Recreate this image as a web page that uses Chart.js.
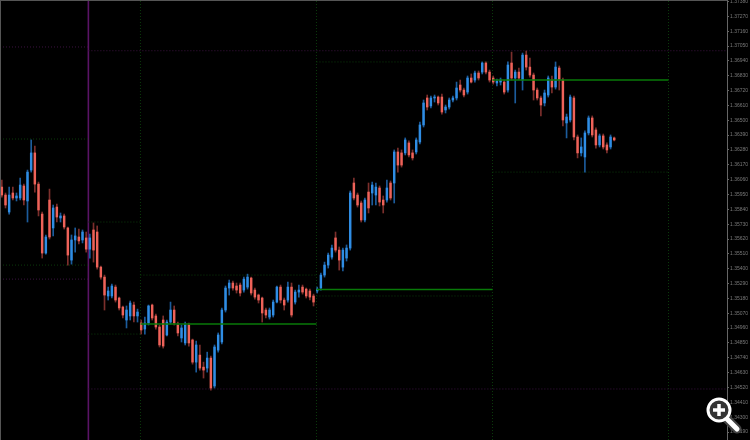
<!DOCTYPE html>
<html lang="en">
<head>
<meta charset="UTF-8">
<title>Price chart</title>
<style>
  html, body { margin: 0; padding: 0; background: #000; overflow: hidden; }
  #wrap { position: relative; width: 750px; height: 440px; }
  #frame { position: absolute; left: 0; top: 0; width: 726px; height: 439px;
           border-left: 1px solid #555; border-top: 1px solid #555; border-right: 1px solid #666; }
  #zoomIcon { position: absolute; left: 700px; top: 392px; }
</style>
</head>
<body>
<div id="wrap">
  <canvas id="myChart" width="750" height="440"></canvas>
  <div id="frame"></div>
  <svg id="zoomIcon" width="44" height="44" viewBox="0 0 44 44">
    <line x1="27" y1="27" x2="37" y2="37" stroke="#444" stroke-width="9" stroke-linecap="round"/>
    <line x1="27" y1="27" x2="37" y2="37" stroke="#fff" stroke-width="5" stroke-linecap="round"/>
    <circle cx="19" cy="18" r="11" fill="#333" stroke="#fff" stroke-width="3"/>
    <path d="M19 12v12M13 18h12" stroke="#fff" stroke-width="3.5"/>
  </svg>
</div>
<script src="https://cdn.jsdelivr.net/npm/chart.js"></script>
<script>
var opens = [
1.36005,1.35946,1.35820,1.35961,1.35924,1.35924,1.36013,1.35902,1.36131,1.36258,
1.36027,1.35805,1.35516,1.35909,1.35702,1.35857,1.35776,1.35791,1.35702,1.35464,
1.35613,1.35635,1.35613,1.35628,1.35545,1.35687,1.35672,1.35412,1.35338,1.35198,
1.35198,1.35264,1.35183,1.35116,1.35020,1.35050,1.35131,1.35050,
1.34998,1.34953,1.34998,1.35131,1.35050,1.34968,1.35020,1.34909,1.35005,1.35094,
1.34983,1.34887,1.34850,1.34983,1.34872,1.34708,1.34760,1.34671,1.34664,1.34738,
1.34531,1.34797,1.34857,1.35094,1.35257,1.35294,1.35272,1.35279,1.35242,1.35264,
1.35331,1.35242,1.35205,1.35183,1.35094,1.35042,1.35057,1.35153,1.35264,1.35168,
1.35168,1.35264,1.35153,1.35227,1.35264,1.35249,1.35235,1.35198,
1.35235,1.35257,1.35353,1.35427,1.35486,1.35628,1.35538,1.35412,1.35479,1.35553,
1.36035,1.35946,1.35887,1.35761,1.35968,1.35961,1.35946,1.35998,1.35909,1.35909,
1.36035,1.36035,1.36265,1.36258,1.36258,1.36332,1.36258,1.36265,1.36339,1.36465,
1.36665,1.36606,1.36665,1.36672,1.36672,1.36576,1.36598,1.36650,1.36665,1.36761,
1.36724,1.36709,1.36813,1.36798,1.36850,1.36857,1.36924,1.36857,
1.36813,1.36776,1.36783,1.36783,1.36724,1.36924,1.36813,1.36857,1.36798,1.36983,
1.36894,1.36835,1.36724,1.36665,1.36628,1.36687,1.36798,1.36746,1.36887,1.36798,
1.36480,1.36502,1.36665,1.36376,1.36258,1.36228,1.36406,1.36517,1.36428,1.36317,1.36384,1.36317,1.36302,1.36369
];
var closes = [
1.35946,1.35872,1.35946,1.35924,1.35939,1.36020,1.35909,1.36116,1.36258,1.36027,
1.35835,1.35516,1.35635,1.35635,1.35850,1.35783,1.35791,1.35709,1.35501,1.35613,
1.35643,1.35606,1.35672,1.35545,1.35628,1.35538,1.35412,1.35338,1.35205,1.35235,
1.35272,1.35168,1.35109,1.35057,1.35094,1.35146,1.35050,1.35079,
1.34946,1.34998,1.35124,1.35035,1.34968,1.34835,1.34827,1.35005,1.35094,1.34998,
1.34924,1.34961,1.34983,1.34850,1.34708,1.34835,1.34664,1.34649,1.34738,1.34516,
1.34820,1.34909,1.35094,1.35257,1.35294,1.35257,1.35242,1.35220,1.35323,1.35338,
1.35220,1.35190,1.35168,1.35072,1.35057,1.35094,1.35153,1.35264,1.35168,1.35131,
1.35264,1.35057,1.35227,1.35242,1.35227,1.35198,1.35190,1.35153,
1.35249,1.35353,1.35427,1.35501,1.35553,1.35538,1.35464,1.35538,1.35553,1.35961,
1.35924,1.35872,1.35761,1.35909,1.35850,1.36020,1.36005,1.35894,1.35872,1.35998,
1.35924,1.36265,1.36168,1.36168,1.36354,1.36243,1.36221,1.36354,1.36465,1.36628,
1.36598,1.36665,1.36672,1.36628,1.36561,1.36598,1.36650,1.36665,1.36739,1.36724,
1.36687,1.36813,1.36783,1.36850,1.36813,1.36924,1.36857,1.36798,
1.36783,1.36791,1.36798,1.36709,1.36909,1.36813,1.36857,1.36813,1.36983,1.36894,
1.36835,1.36724,1.36665,1.36613,1.36702,1.36813,1.36746,1.36894,1.36798,1.36502,
1.36524,1.36672,1.36376,1.36258,1.36302,1.36406,1.36517,1.36391,1.36317,1.36384,1.36302,1.36280,1.36376,1.36354
];
var highs = [
1.36057,1.35961,1.36005,1.36005,1.35961,1.36072,1.36027,1.36131,1.36354,1.36309,
1.36042,1.35820,1.35650,1.35990,1.35872,1.35879,1.35813,1.35805,1.35709,1.35650,
1.35702,1.35694,1.35687,1.35672,1.35657,1.35739,1.35717,1.35420,1.35353,1.35264,
1.35286,1.35279,1.35190,1.35124,1.35124,1.35161,1.35153,1.35101,
1.35020,1.35042,1.35131,1.35138,1.35064,1.34983,1.35050,1.35020,1.35153,1.35124,
1.35005,1.34983,1.35005,1.34998,1.34879,1.34864,1.34835,1.34708,1.34782,1.34753,
1.34835,1.34924,1.35109,1.35272,1.35316,1.35309,1.35294,1.35294,1.35338,1.35360,
1.35338,1.35257,1.35212,1.35190,1.35109,1.35109,1.35168,1.35272,1.35279,1.35183,
1.35301,1.35294,1.35242,1.35279,1.35279,1.35257,1.35249,1.35212,
1.35264,1.35368,1.35449,1.35516,1.35576,1.35672,1.35561,1.35553,1.35576,1.35976,
1.36072,1.35961,1.35902,1.35924,1.36035,1.36042,1.36035,1.36013,1.35939,1.36057,
1.36050,1.36280,1.36294,1.36280,1.36369,1.36347,1.36280,1.36369,1.36487,1.36650,
1.36687,1.36680,1.36687,1.36680,1.36694,1.36613,1.36665,1.36680,1.36783,1.36798,
1.36739,1.36828,1.36843,1.36865,1.36865,1.36932,1.36932,1.36872,
1.36828,1.36806,1.36813,1.36798,1.36932,1.37005,1.36872,1.36887,1.36998,1.37013,
1.36961,1.36850,1.36739,1.36680,1.36724,1.36828,1.36828,1.36932,1.36902,1.36813,
1.36546,1.36687,1.36680,1.36391,1.36369,1.36421,1.36532,1.36532,1.36443,1.36398,1.36398,1.36332,1.36391,1.36376
];
var lows = [
1.35931,1.35850,1.35805,1.35909,1.35902,1.35909,1.35872,1.35746,1.36116,1.35968,
1.35791,1.35479,1.35508,1.35620,1.35643,1.35746,1.35746,1.35694,1.35427,1.35434,
1.35523,1.35583,1.35591,1.35523,1.35479,1.35449,1.35397,1.35323,1.35094,1.35168,
1.35183,1.35153,1.35094,1.35035,1.34961,1.35020,1.35005,1.35005,
1.34916,1.34916,1.34983,1.35020,1.34953,1.34820,1.34812,1.34902,1.34990,1.34983,
1.34902,1.34857,1.34835,1.34827,1.34693,1.34634,1.34649,1.34590,1.34634,1.34501,
1.34516,1.34782,1.34842,1.35079,1.35205,1.35242,1.35220,1.35198,1.35227,1.35249,
1.35205,1.35175,1.35146,1.35005,1.35035,1.35027,1.35042,1.35146,1.35146,1.35094,
1.35153,1.35042,1.35138,1.35190,1.35212,1.35183,1.35168,1.35124,
1.35220,1.35242,1.35338,1.35405,1.35471,1.35523,1.35390,1.35383,1.35457,1.35538,
1.35909,1.35857,1.35746,1.35746,1.35813,1.35872,1.35872,1.35865,1.35813,1.35894,
1.35909,1.35887,1.36116,1.36153,1.36243,1.36228,1.36205,1.36250,1.36324,1.36450,
1.36576,1.36591,1.36635,1.36613,1.36546,1.36554,1.36583,1.36635,1.36650,1.36709,
1.36672,1.36694,1.36776,1.36783,1.36798,1.36843,1.36843,1.36783,
1.36768,1.36754,1.36761,1.36694,1.36709,1.36798,1.36628,1.36798,1.36724,1.36872,
1.36820,1.36650,1.36650,1.36532,1.36606,1.36672,1.36702,1.36731,1.36724,1.36458,
1.36369,1.36487,1.36354,1.36221,1.36235,1.36116,1.36391,1.36376,1.36294,1.36302,1.36287,1.36258,1.36287,1.36347
];

var tickValues = [1.37380,1.37270,1.37160,1.37050,1.36940,1.36830,1.36720,1.36610,1.36500,1.36390,1.36280,1.36170,1.36060,1.35950,1.35840,1.35730,1.35620,1.35510,1.35400,1.35290,1.35180,1.35070,1.34960,1.34850,1.34740,1.34630,1.34520,1.34410,1.34300,1.34190];

// day separators, in bar numbers
var dayStarts = [37.8, 85.8, 133.8, 181.8];
var weekStart = 23.6;

// solid green pivots: [from bar, to bar, price]
var pivots = [[37.8, 85.8, 1.34990], [85.8, 133.8, 1.35246], [133.8, 181.8, 1.36798]];
// previous day high/low, dark green dots
var dayLevels = [[-0.5, 23.6, 1.36361], [-0.5, 23.6, 1.35427], [23.6, 37.8, 1.35746], [23.6, 37.8, 1.34916],
                 [37.8, 85.8, 1.35353], [85.8, 133.8, 1.36932], [85.8, 133.8, 1.35198], [133.8, 181.8, 1.36116]];
// previous week high/low, purple dots
var weekLevels = [[-0.5, 23.6, 1.35323], [-0.5, 23.6, 1.37043], [23.6, 197.75, 1.37015], [23.6, 197.75, 1.34509]];

var UP = '#2f8de4', DOWN = '#ee6259', UP_WICK = '#1c5c9c', DOWN_WICK = '#7c2f2c';
var PRICE_TOP = 1.37391, PRICE_BOTTOM = 1.34131;

function segment(x1, x2, y, color, dash, width, order) {
  return {
    type: 'line', data: [{x: x1, y: y}, {x: x2, y: y}], borderColor: color,
    borderWidth: width, borderDash: dash, pointRadius: 0, order: order
  };
}
function vertical(x, color, dash, width) {
  return {
    type: 'line', data: [{x: x, y: PRICE_BOTTOM}, {x: x, y: PRICE_TOP}], borderColor: color,
    borderWidth: width, borderDash: dash, pointRadius: 0, order: 5
  };
}

var datasets = [];
datasets.push({
  type: 'bar', order: 2, barThickness: 1, grouped: false,
  data: highs.map(function (h, i) { return {x: i, y: [lows[i], h]}; }),
  backgroundColor: closes.map(function (c, i) { return c >= opens[i] ? UP_WICK : DOWN_WICK; })
});
datasets.push({
  type: 'bar', order: 1, barThickness: 1.8, grouped: false, minBarLength: 1,
  data: opens.map(function (o, i) { return {x: i, y: [o, closes[i]]}; }),
  backgroundColor: closes.map(function (c, i) { return c >= opens[i] ? UP : DOWN; })
});
pivots.forEach(function (p) { datasets.push(segment(p[0], p[1], p[2], '#087a08', [], 1.5, 0)); });
dayLevels.forEach(function (l) { datasets.push(segment(l[0], l[1], l[2], '#0b3a0b', [1, 2], 1, 4)); });
weekLevels.forEach(function (l) { datasets.push(segment(l[0], l[1], l[2], '#3c1240', [1, 2], 1, 4)); });
dayStarts.forEach(function (x) { datasets.push(vertical(x, '#0b3a0b', [1, 2], 1)); });
datasets.push(vertical(weekStart, '#5a1466', [], 1.6));

new Chart(document.getElementById('myChart').getContext('2d'), {
  type: 'bar',
  data: {datasets: datasets},
  options: {
    responsive: false, animation: false, events: [],
    layout: {padding: 0},
    plugins: {legend: {display: false}, tooltip: {enabled: false}},
    scales: {
      x: {type: 'linear', display: false, offset: false, min: -0.5, max: 197.75},
      y: {
        position: 'right', min: PRICE_BOTTOM, max: PRICE_TOP,
        afterBuildTicks: function (axis) { axis.ticks = tickValues.map(function (v) { return {value: v}; }); },
        afterFit: function (axis) { axis.width = 23; axis.paddingTop = 0; axis.paddingBottom = 0; },
        grid: {drawOnChartArea: false, tickLength: 2, color: '#666'},
        border: {display: false},
        ticks: {
          autoSkip: false, padding: 1, maxRotation: 0, color: '#7a7a7a',
          font: {family: 'Liberation Sans', size: 5},
          callback: function (v) { return v.toFixed(5); }
        }
      }
    }
  }
});
</script>
</body>
</html>
